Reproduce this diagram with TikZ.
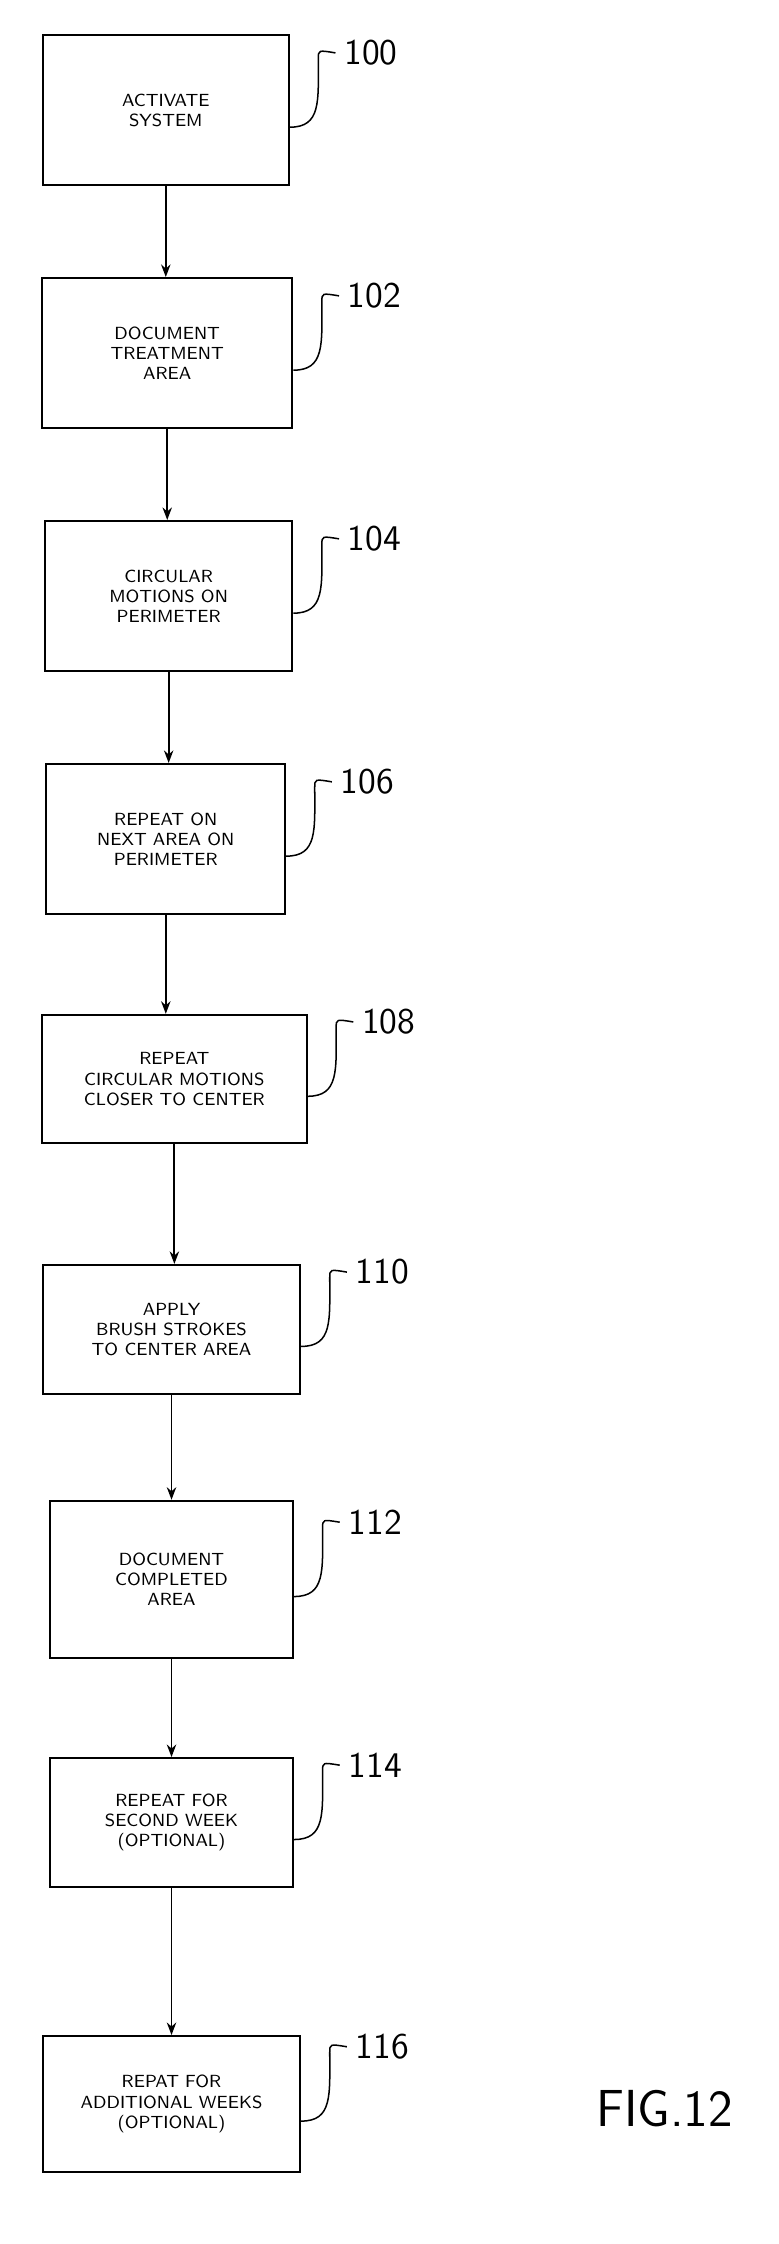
\documentclass[tikz,border=0pt]{standalone}
\usepackage{tikz}
\usetikzlibrary{arrows.meta}
\tikzset{
  stepbox/.style={draw, line width=0.8pt, align=center, font=\sffamily\scriptsize,
    inner sep=2pt},
  ref/.style={font=\sffamily\Large, anchor=west},
  flow/.style={-{Stealth[length=5pt]}, line width=0.7pt}
}
\begin{document}
\begin{tikzpicture}[x=0.02cm, y=-0.02cm]
  \useasboundingbox (0,0) rectangle (545,1570);

  \node [stepbox, minimum width=172*0.02cm, minimum height=105*0.02cm] (s100) at (116,77) {ACTIVATE\\SYSTEM};
  \node [stepbox, minimum width=175*0.02cm, minimum height=105*0.02cm] (s102) at (117,247) {DOCUMENT\\TREATMENT\\AREA};
  \node [stepbox, minimum width=173*0.02cm, minimum height=105*0.02cm] (s104) at (118,417) {CIRCULAR\\MOTIONS ON\\PERIMETER};
  \node [stepbox, minimum width=167*0.02cm, minimum height=105*0.02cm] (s106) at (116,587) {REPEAT ON\\NEXT AREA ON\\PERIMETER};
  \node [stepbox, minimum width=185*0.02cm, minimum height=90*0.02cm] (s108) at (122,755) {REPEAT\\CIRCULAR MOTIONS\\CLOSER TO CENTER};
  \node [stepbox, minimum width=180*0.02cm, minimum height=90*0.02cm] (s110) at (120,930) {APPLY\\BRUSH STROKES\\TO CENTER AREA};
  \node [stepbox, minimum width=170*0.02cm, minimum height=110*0.02cm] (s112) at (120,1105) {DOCUMENT\\COMPLETED\\AREA};
  \node [stepbox, minimum width=170*0.02cm, minimum height=90*0.02cm] (s114) at (120,1275) {REPEAT FOR\\SECOND WEEK\\(OPTIONAL)};
  \node [stepbox, minimum width=180*0.02cm, minimum height=95*0.02cm] (s116) at (120,1472) {REPAT FOR\\ADDITIONAL WEEKS\\(OPTIONAL)};

  \foreach \a/\b in {s100/s102, s102/s104, s104/s106, s106/s108, s108/s110,
                     s110/s112, s112/s114, s114/s116}
    \draw [flow] (\a.south) -- (\a.south |- \b.north);

  % reference numerals with their leaders
  \foreach \s/\n in {s100/100, s102/102, s104/104, s106/106, s108/108,
                     s110/110, s112/112, s114/114, s116/116} {
    \node [ref] (n\n) at ([xshift=32*0.02cm, yshift=40*0.02cm]\s.east) {\n};
    \draw [line width=0.6pt] ([yshift=-12*0.02cm]\s.east) .. controls +(22*0.02cm,0) and +(0,-30*0.02cm) .. ([xshift=-12*0.02cm, yshift=-4*0.02cm]n\n.west) .. controls +(0,6*0.02cm) .. (n\n.west);
  }

  \node [font=\sffamily\huge] (fig) at (465,1475) {FIG.12};
\end{tikzpicture}
\end{document}
